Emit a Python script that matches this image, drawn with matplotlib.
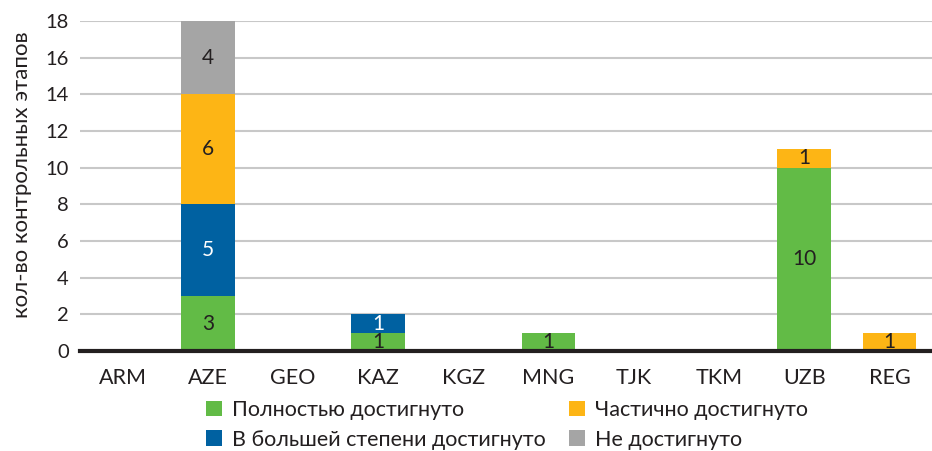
import matplotlib
matplotlib.use("Agg")
import matplotlib.pyplot as plt
import numpy as np

categories = ["ARM", "AZE", "GEO", "KAZ", "KGZ", "MNG", "TJK", "TKM", "UZB", "REG"]
full = [0, 3, 0, 1, 0, 1, 0, 0, 10, 0]
mostly = [0, 5, 0, 1, 0, 0, 0, 0, 0, 0]
partial = [0, 6, 0, 0, 0, 0, 0, 0, 1, 1]
notach = [0, 4, 0, 0, 0, 0, 0, 0, 0, 0]
series_names = ["Полностью достигнуто", "В большей степени достигнуто",
                "Частично достигнуто", "Не достигнуто"]
yticks = [0, 2, 4, 6, 8, 10, 12, 14, 16, 18]

colors = ["#62BB46", "#0061A1", "#FDB515", "#A5A5A5"]
label_colors = ["#231F20", "white", "#231F20", "#231F20"]

plt.rcParams['font.family'] = ['Lato', 'DejaVu Sans']

fig = plt.figure(figsize=(9.32, 4.51), dpi=100)
ax = fig.add_axes([80/932, 1-351/451, 1-80/932, 330/451])

x = np.arange(len(categories))
bottom = np.zeros(len(categories))
handles = []
for vals, c, lc, name in zip([full, mostly, partial, notach], colors, label_colors, series_names):
    v = np.array(vals, dtype=float)
    b = ax.bar(x, v, 0.63, bottom=bottom, color=c, label=name, zorder=2)
    handles.append(b)
    for xi, vi, bi in zip(x, v, bottom):
        if vi > 0:
            ax.text(xi, bi + vi/2, f"{int(vi)}", ha="center", va="center",
                    fontsize=15, color=lc, zorder=3)
    bottom += v

ax.set_xlim(-0.5, len(categories) - 0.5)
ax.set_ylim(0, 18)
ax.set_yticks(yticks)
ax.yaxis.grid(True, color="#C8C8C8", linewidth=1.5, zorder=0)
ax.set_axisbelow(True)
for s in ["top", "right", "left"]:
    ax.spines[s].set_visible(False)
ax.spines["bottom"].set_color("#231F20")
ax.spines["bottom"].set_linewidth(3)
ax.spines["bottom"].set_zorder(4)
ax.tick_params(axis="both", length=0, labelsize=14.5, colors="#231F20")
ax.tick_params(axis="x", pad=12, labelsize=15.5)
ax.tick_params(axis="y", pad=8)
ax.set_xticks(x)
ax.set_xticklabels(categories)
ax.set_ylabel("кол-во контрольных этапов", fontsize=16, color="#231F20")
ax.yaxis.set_label_coords(-0.056, 0.535)

leg = fig.legend(handles, series_names, ncol=2, loc="upper left",
                 bbox_to_anchor=(206/932, 1-400/451), frameon=False,
                 fontsize=15.5, handlelength=0.74, handleheight=0.74,
                 handletextpad=0.45, columnspacing=1.1, labelspacing=0.45,
                 labelcolor="#231F20", borderaxespad=0, borderpad=0)

fig.savefig("out.png", dpi=100)
